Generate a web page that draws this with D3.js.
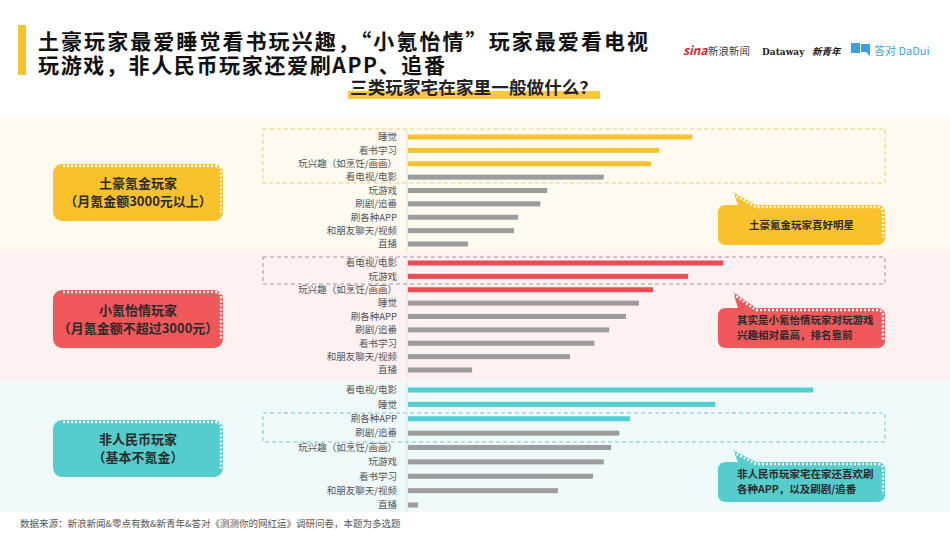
<!DOCTYPE html>
<html>
<head>
<meta charset="utf-8">
<script src="https://cdn.jsdelivr.net/npm/d3@7"></script>
<style>
  body { margin: 0; background: #fff; }
  svg { display: block; font-family: "Noto Sans CJK SC", "Noto Sans", sans-serif; }
</style>
</head>
<body>
<div class="visual"></div>
<script>
const width = 950;
const height = 534;

// 三类玩家的选项（按图中排序）与比例（估读，%）
const tuhaoCats = ["睡觉", "看书学习", "玩兴趣（如烹饪/画画）", "看电视/电影", "玩游戏", "刷剧/追番", "刷各种APP", "和朋友聊天/视频", "直播"];
const tuhaoVals = [42.1, 37.2, 36.0, 29.0, 20.6, 19.6, 16.3, 15.7, 8.9];

const xiaokeCats = ["看电视/电影", "玩游戏", "玩兴趣（如烹饪/画画）", "睡觉", "刷各种APP", "刷剧/追番", "看书学习", "和朋友聊天/视频", "直播"];
const xiaokeVals = [46.7, 41.5, 36.3, 34.2, 32.3, 29.8, 27.6, 24.0, 9.5];

const feiCats = ["看电视/电影", "睡觉", "刷各种APP", "刷剧/追番", "玩兴趣（如烹饪/画画）", "玩游戏", "看书学习", "和朋友聊天/视频", "直播"];
const feiVals = [60.0, 45.5, 32.9, 31.3, 30.1, 29.0, 27.4, 22.2, 1.5];

const groupNames = [["土豪氪金玩家", "（月氪金额3000元以上）"], ["小氪怡情玩家", "（月氪金额不超过3000元）"], ["非人民币玩家", "（基本不氪金）"]];
const notes = [["土豪氪金玩家喜好明星"], ["其实是小氪怡情玩家对玩游戏", "兴趣相对最高，排名靠前"], ["非人民币玩家宅在家还喜欢刷", "各种APP，以及刷剧/追番"]];

const svg = d3.select(".visual").append("svg")
  .attr("width", width)
  .attr("height", height);

const x = d3.scaleLinear().domain([0, 100]).range([407, 1082]);

const sections = [
  { cats: tuhaoCats, vals: tuhaoVals, color: "#f8c22e", bg: "#fefaf0", box: "#e6cf78", fillBox: "#f9c12c", y0: 118, y1: 250, r: [137, 244], hl: [129, 183], label: [164, 221], note: [205, 245], tip: 192 },
  { cats: xiaokeCats, vals: xiaokeVals, color: "#ec4c4f", bg: "#fdf1f1", box: "#9a9a9a", fillBox: "#f0585a", y0: 250, y1: 381, r: [263, 370], hl: [257, 284], label: [290, 348], note: [308, 348], tip: 292 },
  { cats: feiCats, vals: feiVals, color: "#4fcfcf", bg: "#f0f9fa", box: "#78c8c8", fillBox: "#55cdcc", y0: 381, y1: 512, r: [390, 505], hl: [413, 442], label: [420, 477], note: [462, 502], tip: 450 }
];

// 背景色块
svg.selectAll("rect.band")
  .data(sections)
  .enter()
  .append("rect")
  .attr("class", "band")
  .attr("x", 0)
  .attr("width", width)
  .attr("y", (d) => d.y0)
  .attr("height", (d) => d.y1 - d.y0)
  .attr("fill", (d) => d.bg);

sections.forEach((s, si) => {
  const y = d3.scalePoint().domain(s.cats).range(s.r);
  const g = svg.append("g");

  // 竖轴线
  g.append("line")
    .attr("x1", x(0)).attr("x2", x(0))
    .attr("y1", s.r[0] - 8).attr("y2", s.r[1] + 7)
    .attr("stroke", "#dedede");

  // 高亮虚线框
  g.append("rect")
    .attr("x", 263).attr("width", 885 - 263)
    .attr("y", s.hl[0]).attr("height", s.hl[1] - s.hl[0])
    .attr("fill", "none")
    .attr("stroke", s.box)
    .attr("stroke-dasharray", "4,3");

  g.selectAll("rect.bar")
    .data(s.vals)
    .enter()
    .append("rect")
    .attr("class", "bar")
    .attr("x", x(0) + 1)
    .attr("y", (d, i) => y(s.cats[i]) - 2.5)
    .attr("width", (d) => x(d) - x(0))
    .attr("height", 5)
    .attr("fill", (d, i) => (i < 3 ? s.color : "#9c9c9c"));

  g.selectAll("text.cat")
    .data(s.cats)
    .enter()
    .append("text")
    .attr("class", "cat")
    .attr("x", 397)
    .attr("y", (d) => y(d))
    .attr("dy", "0.35em")
    .attr("text-anchor", "end")
    .attr("font-size", 9.5)
    .attr("fill", "#555")
    .text((d) => d);

  // 左侧分组标签
  const lx = 53, lw = 170, ly = s.label[0], lh = s.label[1] - s.label[0];
  g.append("rect")
    .attr("x", lx).attr("y", ly).attr("width", lw).attr("height", lh)
    .attr("rx", 9).attr("fill", s.fillBox);
  g.append("path")
    .attr("d", `M${lx + 10},${ly + 2} H${lx + lw - 8} Q${lx + lw - 2},${ly + 2} ${lx + lw - 2},${ly + 8} V${ly + lh - 8}`)
    .attr("fill", "none")
    .attr("stroke", "#fff")
    .attr("stroke-width", 2.5)
    .attr("stroke-dasharray", "2,2");
  g.selectAll("text.grp")
    .data(groupNames[si])
    .enter()
    .append("text")
    .attr("class", "grp")
    .attr("x", lx + lw / 2)
    .attr("y", (d, i) => ly + lh / 2 - 9 + i * 18)
    .attr("dy", "0.35em")
    .attr("text-anchor", "middle")
    .attr("font-size", 13)
    .attr("font-weight", "bold")
    .attr("fill", "#2b2b2b")
    .text((d) => d);

  // 右侧气泡注释
  const nx = 718, nw = 167, ny = s.note[0], nh = s.note[1] - s.note[0];
  g.append("path")
    .attr("d", `M${nx + 8},${ny} H${nx + 20} L${nx + 15},${s.tip} L${nx + 38},${ny} H${nx + nw - 8} Q${nx + nw},${ny} ${nx + nw},${ny + 8} V${ny + nh - 8} Q${nx + nw},${ny + nh} ${nx + nw - 8},${ny + nh} H${nx + 8} Q${nx},${ny + nh} ${nx},${ny + nh - 8} V${ny + 8} Q${nx},${ny} ${nx + 8},${ny} Z`)
    .attr("fill", s.fillBox);
  g.append("path")
    .attr("d", `M${nx + 15},${s.tip + 2} L${nx + 38},${ny + 2} H${nx + nw - 8} Q${nx + nw - 2},${ny + 2} ${nx + nw - 2},${ny + 8} V${ny + nh - 8}`)
    .attr("fill", "none")
    .attr("stroke", "#fff")
    .attr("stroke-width", 2.5)
    .attr("stroke-dasharray", "2,2");
  const lines = notes[si];
  g.selectAll("text.note")
    .data(lines)
    .enter()
    .append("text")
    .attr("class", "note")
    .attr("x", lines.length === 1 ? nx + nw / 2 : nx + 19)
    .attr("y", (d, i) => ny + nh / 2 - (lines.length - 1) * 7.5 + i * 15)
    .attr("dy", "0.35em")
    .attr("text-anchor", lines.length === 1 ? "middle" : "start")
    .attr("font-size", 10.5)
    .attr("font-weight", "bold")
    .attr("fill", "#2a2a2a")
    .text((d) => d);
});

// 标题
svg.append("rect").attr("x", 18).attr("y", 25).attr("width", 8).attr("height", 50).attr("fill", "#f8c22e");
svg.append("text").attr("x", 38).attr("y", 49).attr("font-size", 21).attr("font-weight", "bold").attr("fill", "#111")
  .attr("textLength", 610).attr("lengthAdjust", "spacing")
  .text("土豪玩家最爱睡觉看书玩兴趣，“小氪怡情”玩家最爱看电视");
svg.append("text").attr("x", 38).attr("y", 73).attr("font-size", 21).attr("font-weight", "bold").attr("fill", "#111")
  .attr("textLength", 407).attr("lengthAdjust", "spacing")
  .text("玩游戏，非人民币玩家还爱刷APP、追番");

// 副标题与荧光笔
svg.append("rect").attr("x", 348).attr("y", 91).attr("width", 252).attr("height", 8).attr("fill", "#f9c73a");
svg.append("text").attr("x", 350).attr("y", 94).attr("font-size", 17.5).attr("font-weight", "bold").attr("fill", "#222")
  .attr("textLength", 247).attr("lengthAdjust", "spacing")
  .text("三类玩家宅在家里一般做什么？");

// 机构标识
const logos = svg.append("g");
logos.append("text").attr("x", 683).attr("y", 55).attr("font-size", 12).attr("font-style", "italic").attr("font-weight", "bold").attr("fill", "#d9262c").text("sina");
logos.append("text").attr("x", 708).attr("y", 55).attr("font-size", 10.5).attr("fill", "#444").text("新浪新闻");
logos.append("text").attr("x", 762).attr("y", 55).attr("font-size", 9).attr("font-weight", "bold").attr("font-family", "DejaVu Serif").attr("fill", "#222").text("Dataway");
logos.append("text").attr("x", 812).attr("y", 55).attr("font-size", 9.5).attr("font-weight", "bold").attr("font-style", "italic").attr("fill", "#111").text("新青年");
logos.append("rect").attr("x", 851).attr("y", 43).attr("width", 9).attr("height", 10).attr("fill", "#3aa0e6");
logos.append("path").attr("d", "M861,44 L870,44 L870,56 L866,52 L861,52 Z").attr("fill", "#3aa0e6");
logos.append("text").attr("x", 874).attr("y", 55).attr("font-size", 11).attr("fill", "#3aa0e6").text("答对 DaDui");

// 数据来源
svg.append("text").attr("x", 20).attr("y", 527).attr("font-size", 9.5).attr("fill", "#555")
  .text("数据来源：新浪新闻&零点有数&新青年&答对《测测你的网红运》调研问卷，本题为多选题");
</script>
</body>
</html>
